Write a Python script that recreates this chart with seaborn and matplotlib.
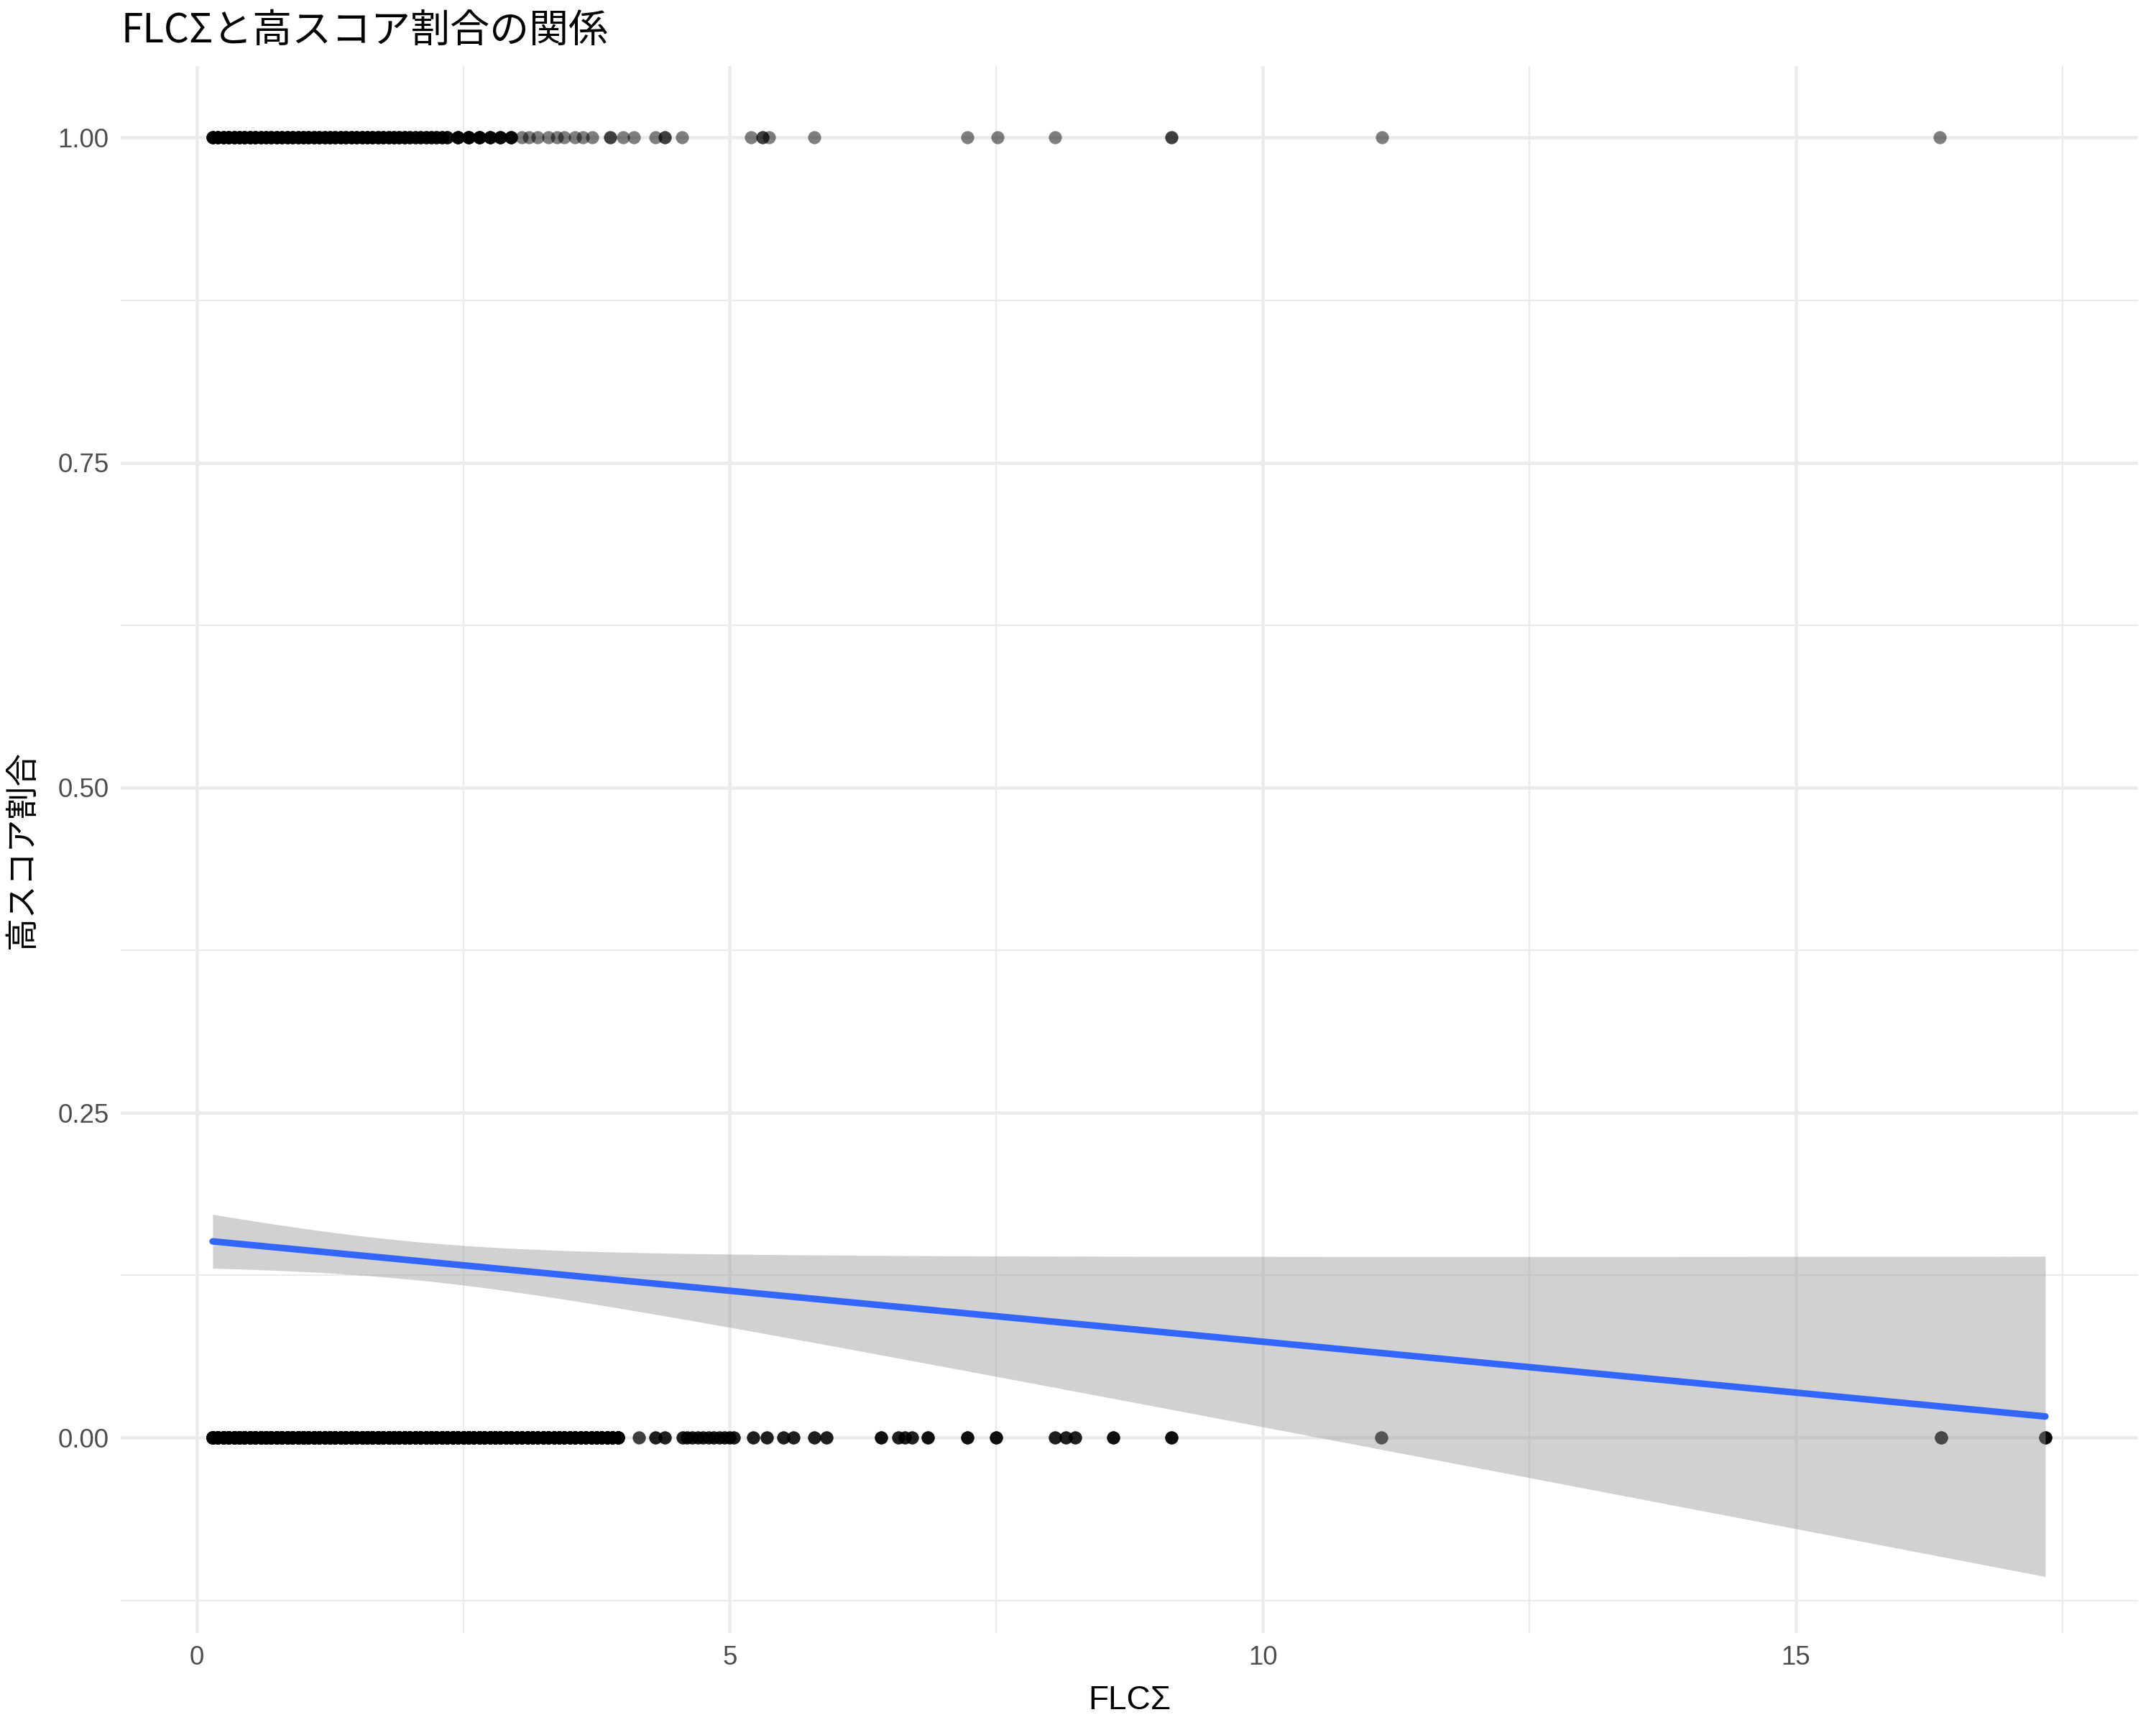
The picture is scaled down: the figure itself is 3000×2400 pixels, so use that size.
import numpy as np
import pandas as pd
import seaborn as sns
import matplotlib.pyplot as plt
from matplotlib.ticker import MultipleLocator

# ---- data (x positions and counts of stacked points) ----
# y = 0 (not high score): dense region
x0_bins = [0.15, 0.20, 0.25, 0.30, 0.35, 0.40, 0.45, 0.50, 0.55, 0.60, 0.65,
           0.70, 0.75, 0.80, 0.85, 0.90, 0.95,
           1.00, 1.05, 1.10, 1.15, 1.20, 1.25, 1.30, 1.35, 1.40, 1.45,
           1.50, 1.55, 1.60, 1.65, 1.70, 1.75, 1.80, 1.85, 1.90, 1.95,
           2.00, 2.05, 2.10, 2.15, 2.20, 2.25, 2.30, 2.35, 2.40, 2.45,
           2.50, 2.55, 2.60, 2.65, 2.70, 2.75, 2.80, 2.85, 2.90, 2.95,
           3.00, 3.05, 3.10, 3.15, 3.20, 3.25, 3.30, 3.35, 3.40, 3.45,
           3.50, 3.55, 3.60, 3.65, 3.70, 3.75, 3.80, 3.85, 3.90, 3.95]
x0_counts = [32, 32, 32, 32, 32, 32, 32, 32, 32, 32, 32,
             32, 32, 32, 32, 32, 32,
             27, 27, 27, 27, 27, 27, 27, 27, 27, 27,
             27, 27, 27, 27, 27, 27, 27, 27, 27, 27,
             20, 20, 20, 20, 20, 20, 20, 20, 20, 20,
             20, 20, 20, 20, 20, 20, 20, 20, 20, 20,
             11, 11, 11, 11, 11, 11, 11, 11, 11, 11,
             11, 11, 11, 11, 11, 11, 11, 11, 11, 11]
# y = 0: sparse positions and how many points overlap there
x0_sparse = [4.15, 4.30, 4.39, 4.56, 4.60, 4.65, 4.70, 4.75, 4.80, 4.85, 4.90,
             4.95, 5.00, 5.04, 5.22, 5.35, 5.50, 5.60, 5.79, 5.91, 6.42, 6.58,
             6.64, 6.71, 6.86, 7.23, 7.50, 8.05, 8.15, 8.24, 8.60, 9.14,
             11.11, 16.36, 17.34]
x0_sparse_counts = [2, 3, 3, 3, 3, 3, 3, 3, 3, 3, 3,
                    3, 3, 3, 3, 3, 3, 3, 3, 3, 4, 3,
                    3, 3, 4, 4, 4, 3, 3, 3, 4, 4,
                    3, 5, 5]

# y = 1 (high score): dense region
x1_bins = [0.15, 0.20, 0.25, 0.30, 0.35, 0.40, 0.45, 0.50, 0.55, 0.60, 0.65,
           0.70, 0.75, 0.80, 0.85, 0.90, 0.95,
           1.00, 1.05, 1.10, 1.15, 1.20, 1.25, 1.30, 1.35, 1.40, 1.45,
           1.50, 1.55, 1.60, 1.65, 1.70, 1.75, 1.80, 1.85, 1.90, 1.95,
           2.00, 2.05, 2.10, 2.15, 2.20, 2.25, 2.30, 2.35,
           2.45, 2.55, 2.65, 2.75, 2.85, 2.95]
x1_counts = [6, 6, 6, 6, 6, 6, 6, 6, 6, 5, 5,
             5, 5, 5, 5, 5, 5,
             5, 5, 5, 5, 5, 5, 5, 5, 5, 5,
             5, 5, 5, 5, 5, 5, 5, 5, 5, 5,
             4, 4, 4, 4, 4, 4, 4, 4,
             6, 6, 6, 5, 5, 5]
# y = 1: individual sparse points
x1_sparse = [3.05, 3.12, 3.20, 3.30, 3.38, 3.45, 3.55, 3.62, 3.71, 3.88, 3.88,
             4.00, 4.10, 4.30, 4.39, 4.39, 4.55, 5.20, 5.31, 5.31, 5.37, 5.79,
             7.23, 7.51, 8.05, 9.14, 9.14, 11.12, 16.35]

x_ticks = [0, 5, 10, 15]
y_ticks = [0.00, 0.25, 0.50, 0.75, 1.00]
y_tick_labels = ["0.00", "0.25", "0.50", "0.75", "1.00"]

# ---- build table ----
x0 = np.concatenate([np.repeat(x0_bins, x0_counts),
                     np.repeat(x0_sparse, x0_sparse_counts)])
x1 = np.concatenate([np.repeat(x1_bins, x1_counts), x1_sparse])
df = pd.DataFrame({
    "FLC": np.concatenate([x0, x1]),
    "high": np.concatenate([np.zeros(len(x0)), np.ones(len(x1))]),
})

# ---- style ----
sns.set_theme(style="whitegrid")
plt.rcParams['font.family'] = ['Liberation Sans', 'Noto Sans CJK JP', 'DejaVu Sans']

fig = plt.figure(figsize=(10, 8), dpi=300)
ax = fig.add_axes([0.0561, 0.0534, 0.9356, 0.9083])

sns.regplot(data=df, x="FLC", y="high", ax=ax, ci=None,
            scatter_kws=dict(color="black", alpha=0.5, s=19, linewidths=0),
            line_kws=dict(color="#3366FF", linewidth=2.2, zorder=3))

# analytic 95% confidence band of the linear fit (as geom_smooth(method="lm"))
xv = df["FLC"].to_numpy()
yv = df["high"].to_numpy()
n = len(xv)
xm = xv.mean()
sxx = ((xv - xm) ** 2).sum()
b = ((xv - xm) * (yv - yv.mean())).sum() / sxx
a = yv.mean() - b * xm
s2 = ((yv - (a + b * xv)) ** 2).sum() / (n - 2)
grid = np.linspace(xv.min(), xv.max(), 120)
fit = a + b * grid
se = np.sqrt(s2 * (1.0 / n + (grid - xm) ** 2 / sxx))
ax.fill_between(grid, fit - 1.961 * se, fit + 1.961 * se,
                color="#999999", alpha=0.45, linewidth=0, zorder=2)

ax.set_xlim(-0.71, 18.21)
ax.set_ylim(-0.15, 1.055)
ax.set_xticks(x_ticks)
ax.set_xticklabels([str(t) for t in x_ticks])
ax.set_yticks(y_ticks)
ax.set_yticklabels(y_tick_labels)
ax.xaxis.set_minor_locator(MultipleLocator(2.5))
ax.yaxis.set_minor_locator(MultipleLocator(0.125))

ax.set_facecolor("white")
ax.set_axisbelow(True)
ax.grid(which="major", color="#EBEBEB", linewidth=1.1)
ax.grid(which="minor", color="#EBEBEB", linewidth=0.55)
for s in ax.spines.values():
    s.set_visible(False)
ax.tick_params(which="both", length=0, labelsize=8.8, labelcolor="#4D4D4D", pad=4)

ax.set_xlabel("FLCΣ", fontsize=11, color="black", labelpad=5)
ax.set_ylabel("高スコア割合", fontsize=11, color="black", labelpad=6,
              family=['Noto Sans CJK JP', 'DejaVu Sans'])
ax.set_title("FLCΣと高スコア割合の関係", fontsize=13.2, loc="left", color="black",
             family=['Noto Sans CJK JP', 'DejaVu Sans'], pad=8)

fig.savefig("out.png", dpi=300, facecolor="white")
